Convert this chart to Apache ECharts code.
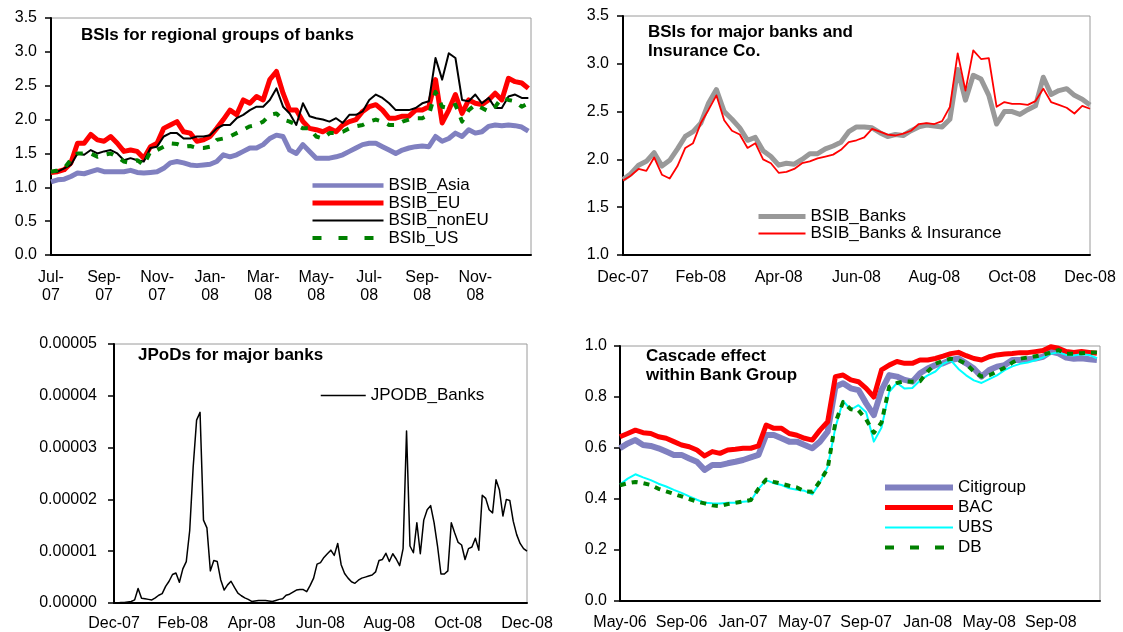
<!DOCTYPE html>
<html><head><meta charset="utf-8">
<script src="https://cdn.jsdelivr.net/npm/echarts@6/dist/echarts.min.js"></script>
<style>html,body{margin:0;padding:0;background:#fff}#c{width:1123px;height:632px}</style>
</head><body><div id="c"></div>
<script>
// ---------- Panel 1: BSIs for regional groups of banks (x in months from Jul-07, step 0.25) ----------
const p1Step = 0.25;
const p1Ticks = ['Jul-\n07','Sep-\n07','Nov-\n07','Jan-\n08','Mar-\n08','May-\n08','Jul-\n08','Sep-\n08','Nov-\n08'];
const p1Asia = [1.08,1.11,1.12,1.16,1.21,1.20,1.23,1.26,1.23,1.23,1.23,1.23,1.25,1.22,1.21,1.22,1.23,1.28,1.36,1.38,1.36,1.33,1.32,1.33,1.34,1.38,1.48,1.45,1.48,1.53,1.58,1.58,1.63,1.72,1.77,1.75,1.55,1.50,1.63,1.53,1.43,1.43,1.43,1.45,1.48,1.53,1.58,1.63,1.65,1.65,1.60,1.55,1.50,1.55,1.58,1.60,1.61,1.60,1.75,1.68,1.72,1.80,1.75,1.85,1.80,1.82,1.90,1.92,1.91,1.92,1.91,1.89,1.83];
const p1EU = [1.22,1.23,1.26,1.36,1.65,1.65,1.78,1.70,1.68,1.75,1.65,1.53,1.55,1.53,1.43,1.60,1.65,1.87,1.92,1.97,1.82,1.80,1.68,1.70,1.75,1.87,2.00,2.14,2.07,2.29,2.24,2.34,2.29,2.59,2.71,2.39,2.14,2.14,1.97,1.87,1.85,1.82,1.87,1.82,1.92,1.97,2.00,2.12,2.19,2.22,2.14,2.02,2.02,2.05,2.05,2.14,2.14,2.19,2.59,1.95,2.14,2.37,2.09,2.29,2.24,2.22,2.29,2.39,2.29,2.61,2.56,2.54,2.46];
const p1NonEU = [1.23,1.23,1.28,1.33,1.50,1.48,1.55,1.50,1.53,1.55,1.50,1.40,1.43,1.40,1.38,1.58,1.60,1.75,1.80,1.80,1.72,1.72,1.75,1.75,1.77,1.87,1.92,1.92,2.02,2.07,2.14,2.19,2.19,2.29,2.46,2.19,2.09,1.92,2.24,2.05,2.02,2.00,1.97,2.02,1.95,2.07,2.07,2.12,2.29,2.37,2.32,2.24,2.14,2.14,2.14,2.17,2.24,2.27,2.91,2.59,2.98,2.91,2.29,2.27,2.37,2.24,2.32,2.17,2.17,2.34,2.37,2.32,2.32];
const p1US = [1.23,1.25,1.28,1.41,1.50,1.50,1.50,1.45,1.48,1.50,1.45,1.38,1.36,1.40,1.33,1.53,1.55,1.60,1.65,1.64,1.60,1.61,1.58,1.58,1.60,1.70,1.72,1.75,1.80,1.85,1.90,1.92,1.97,2.07,2.09,2.00,1.97,1.92,1.87,1.87,1.75,1.72,1.80,1.80,1.82,1.87,1.90,1.92,1.97,2.00,1.97,1.92,1.92,1.97,2.00,2.02,2.02,2.07,2.41,2.19,2.17,2.22,1.97,2.14,2.22,2.17,2.12,2.19,2.32,2.29,2.27,2.19,2.24];

// ---------- Panel 2: BSIs for major banks and Insurance Co. (months from Dec-07, step 0.2) ----------
const p2Step = 0.2;
const p2Ticks = ['Dec-07','Feb-08','Apr-08','Jun-08','Aug-08','Oct-08','Dec-08'];
const p2Banks = [1.79,1.85,1.94,1.98,2.07,1.93,1.99,2.11,2.24,2.29,2.38,2.59,2.73,2.50,2.42,2.33,2.20,2.23,2.09,2.03,1.94,1.96,1.95,2.00,2.06,2.06,2.11,2.14,2.18,2.29,2.34,2.34,2.33,2.28,2.24,2.26,2.25,2.30,2.34,2.36,2.35,2.34,2.42,2.94,2.62,2.88,2.84,2.67,2.37,2.50,2.50,2.47,2.52,2.56,2.86,2.68,2.72,2.74,2.67,2.63,2.57];
const p2BanksIns = [1.78,1.83,1.90,1.88,2.02,1.84,1.80,1.93,2.12,2.17,2.38,2.52,2.67,2.41,2.30,2.26,2.12,2.17,2.00,1.96,1.86,1.87,1.90,1.96,1.98,2.01,2.03,2.05,2.10,2.18,2.20,2.23,2.32,2.29,2.26,2.25,2.27,2.30,2.37,2.38,2.37,2.40,2.55,3.11,2.72,3.14,3.05,3.06,2.55,2.60,2.58,2.58,2.57,2.61,2.74,2.60,2.57,2.54,2.48,2.56,2.53];

// ---------- Panel 3: JPoDs for major banks (months from Dec-07, step 0.1) ----------
const p3Step = 0.1;
const p3Ticks = ['Dec-07','Feb-08','Apr-08','Jun-08','Aug-08','Oct-08','Dec-08'];
const p3JPoD = [
0.00e-5,0.00e-5,0.01e-5,0.01e-5,0.02e-5,0.03e-5,0.06e-5,0.28e-5,0.09e-5,0.08e-5,
0.07e-5,0.06e-5,0.10e-5,0.15e-5,0.18e-5,0.32e-5,0.42e-5,0.55e-5,0.58e-5,0.40e-5,
0.66e-5,0.80e-5,1.40e-5,2.62e-5,3.53e-5,3.68e-5,1.60e-5,1.45e-5,0.62e-5,0.82e-5,
0.80e-5,0.45e-5,0.25e-5,0.35e-5,0.42e-5,0.30e-5,0.19e-5,0.14e-5,0.10e-5,0.07e-5,
0.03e-5,0.04e-5,0.05e-5,0.05e-5,0.05e-5,0.04e-5,0.03e-5,0.05e-5,0.07e-5,0.08e-5,
0.15e-5,0.17e-5,0.21e-5,0.25e-5,0.26e-5,0.26e-5,0.22e-5,0.34e-5,0.48e-5,0.75e-5,
0.78e-5,0.88e-5,0.95e-5,1.02e-5,0.92e-5,1.15e-5,0.74e-5,0.57e-5,0.48e-5,0.41e-5,
0.38e-5,0.44e-5,0.48e-5,0.50e-5,0.52e-5,0.54e-5,0.60e-5,0.82e-5,0.84e-5,0.96e-5,
0.80e-5,0.95e-5,0.85e-5,0.72e-5,1.05e-5,3.32e-5,1.10e-5,0.97e-5,1.55e-5,0.95e-5,
1.60e-5,1.80e-5,1.88e-5,1.55e-5,1.10e-5,0.56e-5,0.56e-5,0.62e-5,1.55e-5,1.35e-5,
1.17e-5,1.12e-5,0.84e-5,1.05e-5,1.08e-5,1.25e-5,1.02e-5,2.08e-5,2.02e-5,1.80e-5,
1.74e-5,2.38e-5,2.18e-5,1.68e-5,2.00e-5,1.98e-5,1.58e-5,1.32e-5,1.15e-5,1.05e-5,
1.00e-5];

// ---------- Panel 4: Cascade effect within Bank Group (months from May-06, step 0.5) ----------
const p4Step = 0.5;
const p4Ticks = ['May-06','Sep-06','Jan-07','May-07','Sep-07','Jan-08','May-08','Sep-08'];
const p4Citi = [0.599,0.618,0.631,0.612,0.608,0.599,0.586,0.573,0.573,0.559,0.546,0.514,0.533,0.533,0.540,0.546,0.553,0.563,0.573,0.651,0.651,0.638,0.625,0.625,0.612,0.599,0.625,0.664,0.840,0.854,0.834,0.827,0.775,0.729,0.827,0.886,0.880,0.867,0.860,0.893,0.912,0.925,0.932,0.945,0.951,0.932,0.912,0.880,0.906,0.919,0.925,0.945,0.945,0.948,0.951,0.958,0.978,0.971,0.955,0.950,0.952,0.948,0.945];
const p4BAC = [0.644,0.657,0.670,0.660,0.657,0.644,0.638,0.625,0.612,0.605,0.592,0.569,0.586,0.579,0.592,0.595,0.599,0.599,0.608,0.690,0.677,0.677,0.657,0.650,0.638,0.631,0.670,0.703,0.880,0.886,0.867,0.860,0.834,0.800,0.906,0.925,0.939,0.932,0.932,0.945,0.945,0.951,0.960,0.970,0.975,0.962,0.951,0.945,0.958,0.965,0.969,0.971,0.974,0.974,0.978,0.982,0.997,0.991,0.978,0.975,0.978,0.975,0.972];
const p4UBS = [0.457,0.480,0.497,0.485,0.474,0.460,0.449,0.436,0.424,0.410,0.397,0.385,0.383,0.382,0.385,0.385,0.389,0.392,0.440,0.474,0.462,0.455,0.442,0.436,0.432,0.418,0.465,0.526,0.680,0.785,0.750,0.768,0.740,0.625,0.680,0.820,0.855,0.833,0.835,0.865,0.885,0.900,0.930,0.944,0.910,0.885,0.865,0.855,0.870,0.885,0.905,0.920,0.930,0.935,0.944,0.955,0.970,0.975,0.965,0.963,0.968,0.965,0.952];
const p4DB = [0.454,0.462,0.467,0.462,0.455,0.440,0.430,0.420,0.410,0.400,0.390,0.383,0.375,0.372,0.380,0.385,0.390,0.396,0.440,0.476,0.467,0.460,0.452,0.445,0.430,0.428,0.470,0.520,0.700,0.780,0.752,0.748,0.712,0.660,0.700,0.840,0.855,0.862,0.860,0.862,0.900,0.930,0.942,0.950,0.945,0.930,0.900,0.880,0.885,0.900,0.915,0.935,0.950,0.955,0.960,0.965,0.975,0.984,0.970,0.970,0.972,0.974,0.975];

// ---------- build ----------
const FONT = '"Liberation Sans", Arial, Helvetica, sans-serif';
const pairs = (arr, step) => arr.map((v, i) => [Math.round(i * step * 1000) / 1000, v]);
const tickFmt = (labels, iv) => v => {
  const k = Math.round(v / iv);
  return Math.abs(v - k * iv) < 1e-6 && labels[k] !== undefined ? labels[k] : '';
};
const grids = [
  {left: 51, top: 18, width: 480, height: 237},
  {left: 623, top: 16, width: 467, height: 239},
  {left: 114, top: 344, width: 413, height: 259},
  {left: 620, top: 346, width: 480, height: 255}
].map(g => Object.assign({show: true, borderColor: '#9a9a9a', borderWidth: 1, backgroundColor: 'transparent', containLabel: false, outerBoundsMode: 'none'}, g));

function xAx(i, max, iv, labels, margin, lh) {
  return {gridIndex: i, type: 'value', min: 0, max: max, interval: iv,
    axisLine: {show: true, onZero: false, lineStyle: {color: '#000', width: 2}},
    axisTick: {show: false}, splitLine: {show: false},
    axisLabel: {show: true, margin: margin, color: '#000', fontSize: 16, fontFamily: FONT, lineHeight: lh || 18,
      showMinLabel: true, showMaxLabel: true, hideOverlap: false, formatter: tickFmt(labels, iv)}};
}
function yAx(i, min, max, iv, dec, margin) {
  return {gridIndex: i, type: 'value', min: min, max: max, interval: iv,
    axisLine: {show: true, onZero: false, lineStyle: {color: '#000', width: 2}},
    axisTick: {show: true, inside: false, length: 6, lineStyle: {color: '#000', width: 1.5}},
    splitLine: {show: false},
    axisLabel: {margin: margin, color: '#000', fontSize: 16, fontFamily: FONT, formatter: v => v.toFixed(dec)}};
}
function line(name, xi, data, step, color, width, type, z) {
  return {name: name, type: 'line', xAxisIndex: xi, yAxisIndex: xi, data: pairs(data, step),
    symbol: 'none', showSymbol: false, smooth: false, color: color, z: z || 2,
    lineStyle: {color: color, width: width, type: type || 'solid', cap: 'butt', join: 'round'},
    emphasis: {disabled: true}, animation: false};
}
const legendBase = {orient: 'vertical', selectedMode: false, padding: 0, itemHeight: 14,
  itemStyle: {opacity: 0},
  textStyle: {color: '#000', fontSize: 17, fontFamily: FONT}};
const titleBase = {padding: 0, textStyle: {color: '#000', fontSize: 17, fontWeight: 'bold', fontFamily: FONT, lineHeight: 19}};
const li = (name, width, type) => ({name: name, lineStyle: {width: width, type: type || 'solid', cap: 'butt'}});

const option = {
  animation: false,
  backgroundColor: '#fff',
  title: [
    Object.assign({}, titleBase, {text: 'BSIs for regional groups of banks', left: 81, top: 26}),
    Object.assign({}, titleBase, {text: 'BSIs for major banks and\nInsurance Co.', left: 648, top: 23}),
    Object.assign({}, titleBase, {text: 'JPoDs for major banks', left: 138, top: 346}),
    Object.assign({}, titleBase, {text: 'Cascade effect\nwithin Bank Group', left: 646, top: 347})
  ],
  legend: [
    Object.assign({}, legendBase, {left: 310, top: 177, itemWidth: 71, itemGap: 0.5,
      data: [li('BSIB_Asia', 4.5), li('BSIB_EU', 5), li('BSIB_nonEU', 2), li('BSIb_US', 4, [9, 17])]}),
    Object.assign({}, legendBase, {left: 756, top: 208, itemWidth: 47, itemGap: 0,
      data: [li('BSIB_Banks', 5), li('BSIB_Banks & Insurance', 1.8)]}),
    Object.assign({}, legendBase, {left: 320, top: 387, itemWidth: 45, itemGap: 0,
      data: [li('JPODB_Banks', 1.5)]}),
    Object.assign({}, legendBase, {left: 882, top: 479, itemWidth: 68, itemGap: 3,
      data: [li('Citigroup', 6), li('BAC', 5), li('UBS', 2), li('DB', 4, [9, 16])]})
  ],
  grid: grids,
  xAxis: [
    xAx(0, 18.1, 2, p1Ticks, 14, 17.5),
    xAx(1, 12, 2, p2Ticks, 14),
    xAx(2, 12, 2, p3Ticks, 12),
    xAx(3, 31.2, 4, p4Ticks, 13)
  ],
  yAxis: [
    yAx(0, 0, 3.5, 0.5, 1, 14),
    yAx(1, 1, 3.5, 0.5, 1, 14),
    yAx(2, 0, 0.00005, 0.00001, 5, 17),
    yAx(3, 0, 1, 0.2, 1, 13)
  ],
  series: [
    line('BSIB_Asia', 0, p1Asia, p1Step, '#8080c0', 5),
    line('BSIB_EU', 0, p1EU, p1Step, '#ff0000', 5),
    line('BSIB_nonEU', 0, p1NonEU, p1Step, '#000000', 2),
    line('BSIb_US', 0, p1US, p1Step, '#008000', 4, [7, 9]),
    line('BSIB_Banks', 1, p2Banks, p2Step, '#999999', 5),
    line('BSIB_Banks & Insurance', 1, p2BanksIns, p2Step, '#ff0000', 1.8),
    line('JPODB_Banks', 2, p3JPoD, p3Step, '#000000', 1.5),
    line('Citigroup', 3, p4Citi, p4Step, '#8080c0', 6),
    line('BAC', 3, p4BAC, p4Step, '#ff0000', 5),
    line('UBS', 3, p4UBS, p4Step, '#00ffff', 2),
    line('DB', 3, p4DB, p4Step, '#008000', 4, [6, 6])
  ]
};
const chart = echarts.init(document.getElementById('c'), null, {renderer: 'canvas'});
chart.setOption(option);
</script>
</body></html>
